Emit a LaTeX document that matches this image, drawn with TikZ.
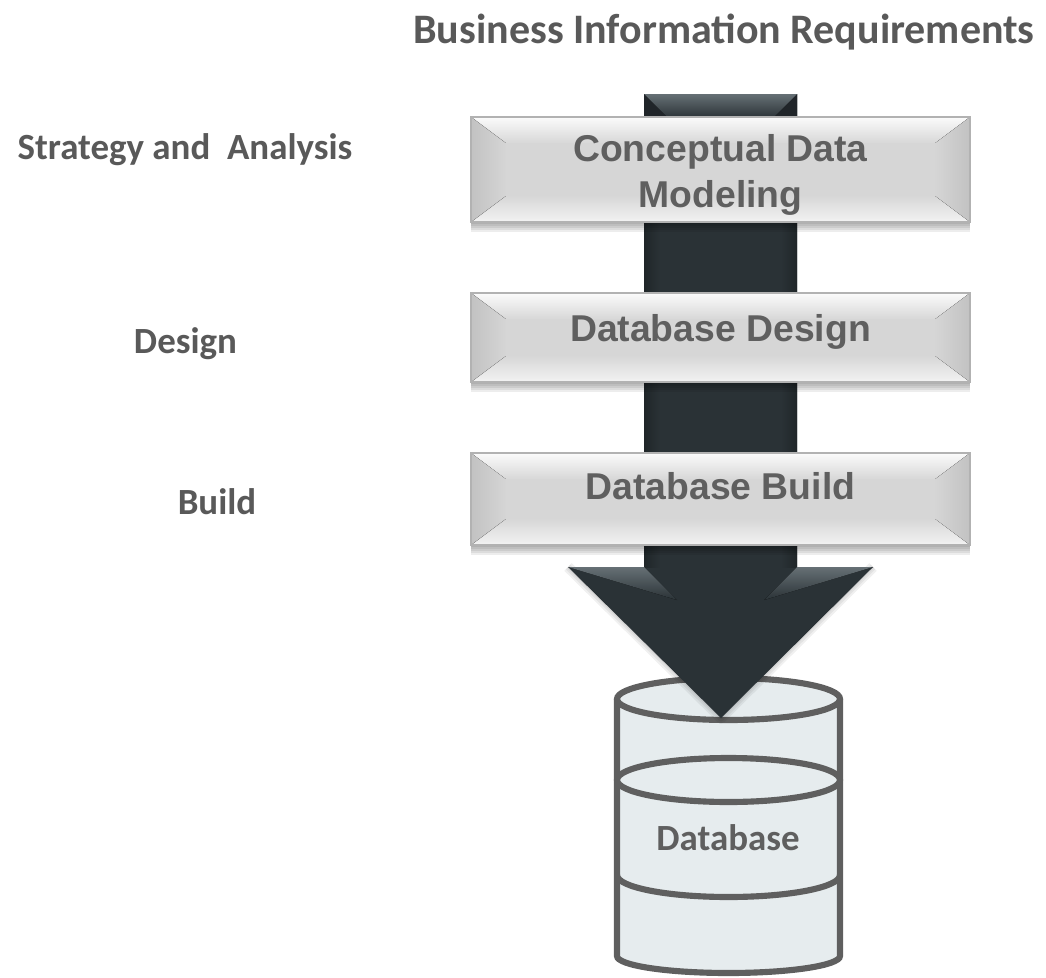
\documentclass[tikz,border=0pt]{standalone}
\usepackage{fontspec}
\setmainfont{Carlito}
\newfontfamily\boxfont{Liberation Sans}
\usetikzlibrary{positioning}
\definecolor{labelColor}{HTML}{595959}
\definecolor{boxTextColor}{HTML}{5F5F5F}
\definecolor{boxColor}{HTML}{D6D6D6}
\definecolor{boxEdgeColor}{HTML}{B2B2B2}
\definecolor{boxSideColor}{HTML}{C2C2C2}
\definecolor{arrowColor}{HTML}{2A3236}
\definecolor{arrowLightColor}{HTML}{667075}
\definecolor{dbColor}{HTML}{E6ECEE}
\definecolor{dbEdgeColor}{HTML}{5F5F5F}

\newcommand{\bevelbox}[5]{
  \foreach \d in {2,4,6,8,10} {
    \fill[black, opacity=0.07] (471,#2) rectangle (970,#2+\d);
  }
  \fill[boxColor] (471,#1) rectangle (970,#2);
  \fill[top color=white!90!boxColor, bottom color=boxColor] (471,#1) -- (970,#1) -- (934,#1+27) -- (507,#1+27) -- cycle;
  \fill[top color=boxColor, bottom color=white!70!boxColor] (507,#2-27) -- (934,#2-27) -- (970,#2) -- (471,#2) -- cycle;
  \fill[left color=boxSideColor, right color=boxColor] (471,#1) -- (507,#1+27) -- (507,#2-27) -- (471,#2) -- cycle;
  \fill[left color=boxColor, right color=boxSideColor] (970,#1) -- (934,#1+27) -- (934,#2-27) -- (970,#2) -- cycle;
  \fill[boxColor] (506,#1+26) rectangle (935,#2-26);
  \draw[boxEdgeColor, line width=0.9pt] (471,#1) rectangle (970,#2);
  \node[boxNode] (#3) at (720.5,#4) {#5};
}

\begin{document}
\begin{tikzpicture}[x=0.75pt,y=-0.75pt]

  \tikzstyle{labelNode} = [labelColor, font=\fontsize{27.7}{32}\selectfont\bfseries];
  \tikzstyle{titleNode} = [labelColor, font=\fontsize{31.5}{36}\selectfont\bfseries];
  \tikzstyle{boxNode} = [boxTextColor, align=center, inner sep=0pt,
    font=\boxfont\fontsize{28}{34.5}\selectfont\bfseries];
  \tikzstyle{dbEdge} = [dbEdgeColor, line width=4.6pt];

  \useasboundingbox (0,0) rectangle (1046,978);

  % database
  \fill[dbColor] (617,699) -- (617,956) arc (180:0:111.5 and 17) -- (840,699) -- cycle;
  \fill[dbColor] (728.5,699) ellipse (111.5 and 21);
  \draw[dbEdge] (728.5,699) ellipse (111.5 and 21);
  \draw[dbEdge] (728.5,780) ellipse (111.5 and 22);
  \draw[dbEdge] (617,875) arc (180:0:111.5 and 22);
  \draw[dbEdge] (617,699) -- (617,956) arc (180:0:111.5 and 17) -- (840,699);
  \node[labelNode, boxTextColor] (database) at (728,838) {Database};

  % arrow
  \foreach \w in {2,5,8} {
    \draw[black, opacity=0.06, line width=\w pt, line join=round] (568,567) -- (721,718) -- (873,567);
  }
  \fill[arrowColor] (644,94) -- (797,94) -- (797,567) -- (873,567) -- (721,718) -- (568,567) -- (644,567) -- cycle;
  \fill[left color=black!25!arrowColor, right color=arrowColor] (644,94) rectangle (660,567);
  \fill[left color=arrowColor, right color=black!25!arrowColor] (781,94) rectangle (797,567);
  \fill[black!25!arrowColor] (644,94) -- (668,118) -- (644,118) -- cycle;
  \fill[black!25!arrowColor] (797,94) -- (773,118) -- (797,118) -- cycle;
  \fill[top color=arrowLightColor, bottom color=arrowColor] (644,94) -- (797,94) -- (773,118) -- (668,118) -- cycle;
  \fill[top color=arrowLightColor, bottom color=arrowColor] (568,567) -- (644,567) -- (677,600) -- cycle;
  \fill[top color=arrowLightColor, bottom color=arrowColor] (873,567) -- (797,567) -- (764,600) -- cycle;

  % boxes
  \bevelbox{117}{222}{conceptual}{175}{Conceptual Data\\Modeling}
  \bevelbox{293}{382}{design}{332}{Database Design}
  \bevelbox{453}{545}{build}{486}{Database Build}

  % labels
  \node[titleNode] (requirements) at (724,32) {Business Information Requirements};
  \node[labelNode] (strategy) at (185,150) {Strategy and\ \ Analysis};
  \node[labelNode] (designLabel) at (185.5,344) {Design};
  \node[labelNode] (buildLabel) at (217,502) {Build};

\end{tikzpicture}
\end{document}
